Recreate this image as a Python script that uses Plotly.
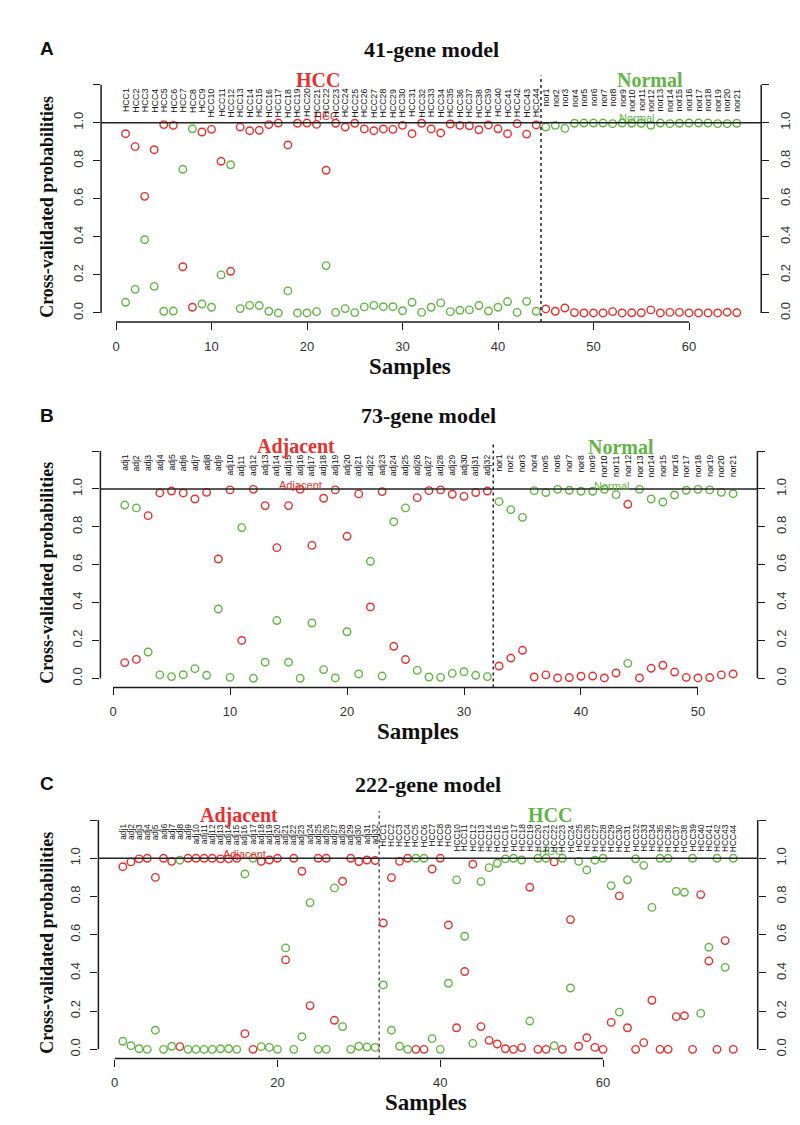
import plotly.graph_objects as go

# ---------------- data ----------------
A_groups = ["HCC", "Normal"]
A_counts = [44, 21]
A_label_prefix = ["HCC", "nor"]
A_red = [0.942, 0.874, 0.613, 0.858, 0.99, 0.986, 0.243, 0.03, 0.951, 0.965,
         0.797, 0.219, 0.977, 0.958, 0.96, 0.99, 0.998, 0.883, 0.997, 0.998,
         0.991, 0.75, 0.997, 0.977, 0.997, 0.967, 0.958, 0.967, 0.965, 0.986,
         0.942, 0.997, 0.967, 0.946, 0.993, 0.986, 0.984, 0.963, 0.988, 0.968,
         0.942, 0.995, 0.94, 0.988,
         0.021, 0.009, 0.026, 0.002, 0.0, 0.0, 0.0, 0.007, 0.0, 0.001,
         0.001, 0.016, 0.0, 0.003, 0.003, 0.0, 0.0, 0.0, 0.0, 0.004, 0.001]
A_green = [0.056, 0.124, 0.385, 0.14, 0.009, 0.01, 0.755, 0.968, 0.047, 0.03,
           0.2, 0.779, 0.023, 0.04, 0.039, 0.009, 0.0, 0.116, 0.0, 0.0,
           0.007, 0.249, 0.003, 0.023, 0.002, 0.032, 0.04, 0.033, 0.033, 0.012,
           0.056, 0.003, 0.03, 0.053, 0.007, 0.014, 0.016, 0.039, 0.01, 0.03,
           0.06, 0.003, 0.061, 0.009,
           0.977, 0.986, 0.97, 0.997, 0.998, 0.998, 0.998, 0.995, 0.998, 0.997,
           0.997, 0.986, 0.998, 0.995, 0.997, 0.998, 0.998, 0.998, 0.995, 0.995, 0.997]
A_xticks = [0, 10, 20, 30, 40, 50, 60]

B_groups = ["Adjacent", "Normal"]
B_counts = [32, 21]
B_label_prefix = ["adj", "nor"]
B_red = [0.083, 0.1, 0.859, 0.979, 0.989, 0.979, 0.947, 0.982, 0.63, 0.995,
         0.2, 0.998, 0.912, 0.69, 0.912, 0.998, 0.702, 0.951, 0.995, 0.75,
         0.974, 0.377, 0.986, 0.169, 0.099, 0.954, 0.991, 0.995, 0.972, 0.961,
         0.981, 0.989,
         0.065, 0.107, 0.148, 0.007, 0.018, 0.002, 0.004, 0.011, 0.012, 0.002,
         0.028, 0.919, 0.002, 0.053, 0.069, 0.033, 0.005, 0.002, 0.004, 0.018, 0.023]
B_green = [0.915, 0.9, 0.139, 0.018, 0.009, 0.019, 0.051, 0.016, 0.366, 0.005,
           0.796, 0.0, 0.085, 0.305, 0.085, 0.0, 0.292, 0.046, 0.002, 0.246,
           0.023, 0.618, 0.012, 0.827, 0.9, 0.042, 0.007, 0.005, 0.026, 0.035,
           0.016, 0.009,
           0.933, 0.891, 0.85, 0.991, 0.981, 0.998, 0.993, 0.988, 0.988, 0.998,
           0.97, 0.079, 0.998, 0.947, 0.931, 0.968, 0.993, 0.998, 0.995, 0.982, 0.975]
B_xticks = [0, 10, 20, 30, 40, 50]

C_groups = ["Adjacent", "HCC"]
C_counts = [32, 44]
C_label_prefix = ["adj", "HCC"]
C_red = [0.956, 0.981, 0.997, 1.0, 0.9, 1.0, 0.984, 0.014, 1.0, 1.0,
         1.0, 1.0, 0.997, 0.997, 1.0, 0.082, 0.0, 0.984, 0.991, 1.0,
         0.468, 1.0, 0.932, 0.229, 1.0, 1.0, 0.152, 0.88, 1.0, 0.983,
         0.991, 0.988,
         0.661, 0.899, 0.984, 1.0, 0.0, 0.0, 0.944, 1.0,
         0.651, 0.113, 0.407, 0.969, 0.119, 0.047, 0.028, 0.003, 0.0, 0.009,
         0.848, 0.0, 0.0, 0.981, 0.0, 0.679, 0.016, 0.061, 0.01, 0.0,
         0.141, 0.803, 0.113, 0.0, 0.035, 0.257, 0.0, 0.0, 0.171, 0.176,
         0.0, 0.81, 0.462, 0.0, 0.569, 0.0]
C_green = [0.042, 0.019, 0.003, 0.0, 0.1, 0.0, 0.016, 0.99, 0.0, 0.0,
           0.0, 0.0, 0.003, 0.003, 0.0, 0.918, 1.0, 0.014, 0.01, 0.0,
           0.531, 0.0, 0.066, 0.768, 0.0, 0.0, 0.845, 0.119, 0.0, 0.016,
           0.012, 0.01,
           0.337, 0.1, 0.016, 0.0, 1.0, 1.0, 0.056, 0.0,
           0.346, 0.887, 0.592, 0.031, 0.878, 0.951, 0.974, 0.997, 1.0, 0.991,
           0.148, 1.0, 1.0, 0.019, 1.0, 0.321, 0.984, 0.939, 0.99, 1.0,
           0.857, 0.195, 0.887, 0.997, 0.963, 0.743, 1.0, 1.0, 0.827, 0.822,
           1.0, 0.188, 0.534, 1.0, 0.429, 1.0]
C_xticks = [0, 20, 40, 60]

Y_TICKS = [0.0, 0.2, 0.4, 0.6, 0.8, 1.0, 1.2]
Y_TICKTEXT = ["0.0", "0.2", "0.4", "0.6", "0.8", "1.0", ""]

PANELS = [
    dict(letter="A", title="41-gene model", groups=A_groups, counts=A_counts,
         prefix=A_label_prefix, red=A_red, green=A_green, xticks=A_xticks),
    dict(letter="B", title="73-gene model", groups=B_groups, counts=B_counts,
         prefix=B_label_prefix, red=B_red, green=B_green, xticks=B_xticks),
    dict(letter="C", title="222-gene model", groups=C_groups, counts=C_counts,
         prefix=C_label_prefix, red=C_red, green=C_green, xticks=C_xticks),
]

# ---------------- style / layout ----------------
W, H = 800, 1125
RED = "#E8302F"
GREEN = "#63B447"
AXC = "#1a1a1a"
SANS = "Liberation Sans, Arial, sans-serif"
SERIF = "Liberation Serif, Times New Roman, serif"

# pixel geometry of each plot region: (left, right, top, bottom)
GEOM = [(93.1, 753.2, 67.5, 314.1),
        (92.4, 749.4, 434.0, 679.4),
        (90.4, 749.7, 802.9, 1050.5)]
BIG_X = [(21.1, 55.9), (15.6, 43.4), (15.3, 53.5)]
SMALL_LBL = [((22.0, 1.035), (54.5, 1.025)),
             ((16.0, 1.02), (42.6, 1.014)),
             ((16.0, 1.024), (53.6, 1.04))]
VLINE_COLORS = ["#222222", "#222222", "#555555"]
LABEL_SIZE = [8.8, 8.6, 8.4]
SAMPLES_X = [402, 410, 418]


def px(xpix):
    return xpix / W


def py(ypix):
    return 1 - ypix / H


fig = go.Figure()
layout = dict(width=W, height=H, margin=dict(l=0, r=0, t=0, b=0),
              paper_bgcolor="white", plot_bgcolor="white", showlegend=False,
              font=dict(family=SANS, color="#222"))
shapes, annotations = [], []

for i, p in enumerate(PANELS):
    k = i + 1
    kr = i + 4
    xs = "" if k == 1 else str(k)
    xa, ya, yr = "x" + xs, "y" + xs, "y" + str(kr)
    n = len(p["red"])
    samples = list(range(1, n + 1))
    n1 = p["counts"][0]
    labels = [f"{p['prefix'][0]}{j}" for j in range(1, p["counts"][0] + 1)] + \
             [f"{p['prefix'][1]}{j}" for j in range(1, p["counts"][1] + 1)]
    L, R, T, B = GEOM[i]
    pad = 0.04 * (n - 1)
    xrange_ = [1 - pad, n + pad]

    fig.add_trace(go.Scatter(x=samples, y=p["red"], mode="markers", xaxis=xa, yaxis=ya,
                             marker=dict(symbol="circle-open", size=7.5, color=RED,
                                         line=dict(width=1.4, color=RED)),
                             hoverinfo="x+y"))
    fig.add_trace(go.Scatter(x=samples, y=p["green"], mode="markers", xaxis=xa, yaxis=yr,
                             marker=dict(symbol="circle-open", size=7.5, color=GREEN,
                                         line=dict(width=1.4, color=GREEN)),
                             hoverinfo="x+y"))

    common_tick = dict(ticks="outside", ticklen=7, tickwidth=1.3, tickcolor=AXC,
                       showline=False, showgrid=False, zeroline=False,
                       tickfont=dict(family=SANS, size=13, color="#333"))
    layout["xaxis" + xs] = dict(domain=[px(L), px(R)], range=xrange_, anchor=ya,
                                tickmode="array", tickvals=p["xticks"],
                                ticklabelstandoff=5, **common_tick)
    ydom = [py(B), py(T)]
    layout["yaxis" + xs] = dict(domain=ydom, range=[-0.048, 1.248], anchor=xa,
                                tickmode="array", tickvals=Y_TICKS, ticktext=Y_TICKTEXT,
                                tickangle=-90, ticklabelstandoff=5, **common_tick)
    layout["yaxis" + str(kr)] = dict(domain=ydom, range=[-0.048, 1.248], anchor=xa,
                                     overlaying=ya, side="right",
                                     tickmode="array", tickvals=Y_TICKS, ticktext=Y_TICKTEXT,
                                     tickangle=-90, ticklabelstandoff=5, **common_tick)

    # axis lines (R style)
    shapes.append(dict(type="line", xref=xa, yref=ya + " domain", x0=p["xticks"][0],
                       x1=p["xticks"][-1], y0=0, y1=0, line=dict(color=AXC, width=1.5)))
    for xd in (0, 1):
        shapes.append(dict(type="line", xref=xa + " domain", yref=ya, x0=xd, x1=xd,
                           y0=Y_TICKS[0], y1=Y_TICKS[-1], line=dict(color=AXC, width=1.5)))
    # reference line at 1 and group divider
    shapes.append(dict(type="line", xref=xa + " domain", yref=ya, x0=0, x1=1, y0=1, y1=1,
                       line=dict(color="#222", width=1.5)))
    shapes.append(dict(type="line", xref=xa, yref=ya + " domain", x0=n1 + 0.5, x1=n1 + 0.5,
                       y0=0, y1=1, line=dict(color=VLINE_COLORS[i], width=1.5, dash="3px,3px")))

    # small group labels near the line (drawn first, underneath sample labels)
    for (sx, sy), g, c in zip(SMALL_LBL[i], p["groups"], (RED, GREEN)):
        annotations.append(dict(x=sx, y=sy, xref=xa, yref=ya, text=g, showarrow=False,
                                xanchor="center", yanchor="middle",
                                font=dict(family=SANS, size=11, color=c)))
    # sample labels
    for s, lab in zip(samples, labels):
        annotations.append(dict(x=s, y=1.19, xref=xa, yref=ya, text=lab, showarrow=False,
                                textangle=-90, xanchor="center", yanchor="top",
                                font=dict(family=SANS, size=LABEL_SIZE[i], color="#111")))
    # big group labels
    for bx, g, c in zip(BIG_X[i], p["groups"], (RED, GREEN)):
        annotations.append(dict(x=bx, y=py(T + 4.5), xref=xa, yref="paper", text=f"<b>{g}</b>",
                                showarrow=False, xanchor="center", yanchor="middle",
                                font=dict(family=SERIF, size=20, color=c)))
    # titles
    annotations.append(dict(x=px((L + R) / 2), y=py(T - 26.5), xref="paper", yref="paper",
                            text=f"<b>{p['title']}</b>", showarrow=False,
                            xanchor="center", yanchor="middle",
                            font=dict(family=SERIF, size=22, color="#111")))
    annotations.append(dict(x=px(39), y=py(T - 27), xref="paper", yref="paper",
                            text=f"<b>{p['letter']}</b>", showarrow=False,
                            xanchor="center", yanchor="middle",
                            font=dict(family=SANS, size=19, color="#111")))
    annotations.append(dict(x=px(39), y=py((T + B) / 2 + 8), xref="paper", yref="paper",
                            text="<b>Cross-validated probabilities</b>", showarrow=False,
                            textangle=-90, xanchor="center", yanchor="middle",
                            font=dict(family=SERIF, size=18, color="#111")))
    annotations.append(dict(x=px(SAMPLES_X[i]), y=py(B + 44), xref="paper", yref="paper",
                            text="<b>Samples</b>", showarrow=False,
                            xanchor="center", yanchor="middle",
                            font=dict(family=SERIF, size=23, color="#111")))

layout["shapes"] = shapes
layout["annotations"] = annotations
fig.update_layout(**layout)
fig.write_html("out.html")
